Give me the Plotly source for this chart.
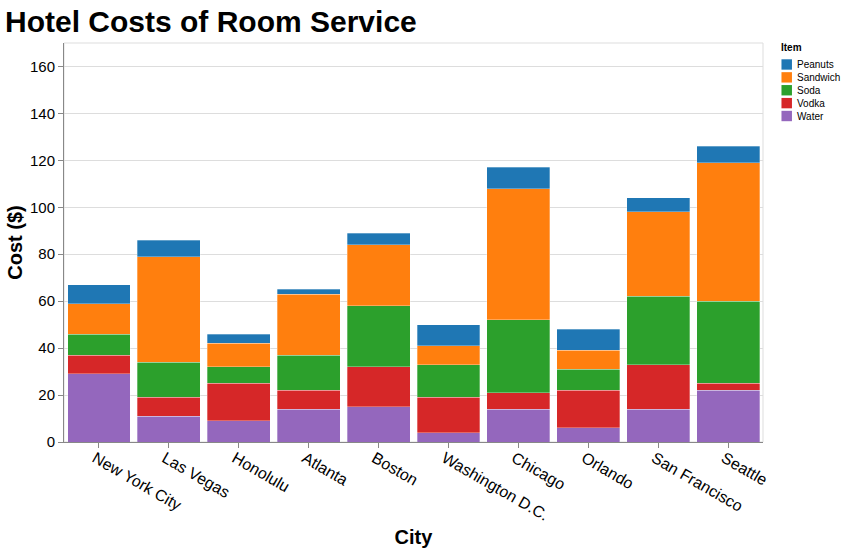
import plotly.graph_objects as go

cities = ['New York City', 'Las Vegas', 'Honolulu', 'Atlanta', 'Boston',
          'Washington D.C.', 'Chicago', 'Orlando', 'San Francisco', 'Seattle']

water = [29, 11, 9, 14, 15, 4, 14, 6, 14, 22]
vodka = [8, 8, 16, 8, 17, 15, 7, 16, 19, 3]
soda = [9, 15, 7, 15, 26, 14, 31, 9, 29, 35]
sandwich = [13, 45, 10, 26, 26, 8, 56, 8, 36, 59]
peanuts = [8, 7, 4, 2, 5, 9, 9, 9, 6, 7]

items = ['Peanuts', 'Sandwich', 'Soda', 'Vodka', 'Water']
item_colors = ['#1f77b4', '#ff7f0e', '#2ca02c', '#d62728', '#9467bd']
y_ticks = [0, 20, 40, 60, 80, 100, 120, 140, 160]

font_name = 'Liberation Sans, Arial, sans-serif'
W, H = 846, 553
left, right, top, bottom = 63.5, 82.5, 42.5, 111

fig = go.Figure()
for name, values, color in [('Water', water, '#9467bd'),
                            ('Vodka', vodka, '#d62728'),
                            ('Soda', soda, '#2ca02c'),
                            ('Sandwich', sandwich, '#ff7f0e'),
                            ('Peanuts', peanuts, '#1f77b4')]:
    fig.add_trace(go.Bar(x=cities, y=values, name=name, showlegend=False,
                         marker=dict(color=color, line=dict(color='#ffffff', width=0.3))))


# plotly's legend can't pack this tight, so it is drawn by hand in pixels
def px_x(px):
    return (px - left) / (W - left - right)


def px_y(px):
    return 1 - (px - top) / (H - top - bottom)


shapes = [dict(type='rect', xref='paper', yref='paper', x0=0, x1=1, y0=0, y1=1,
               line=dict(color='#dddddd', width=1), layer='below')]
annotations = [dict(text='<b>Item</b>', xref='paper', yref='paper', x=px_x(780), y=px_y(47.5),
                    xanchor='left', yanchor='middle', showarrow=False, font=dict(size=10))]
for i, (item, color) in enumerate(zip(items, item_colors)):
    cy = 64 + i * 12.9
    shapes.append(dict(type='rect', xref='paper', yref='paper', x0=px_x(782), x1=px_x(792.5),
                       y0=px_y(cy - 5.2), y1=px_y(cy + 5.2), fillcolor=color, line=dict(width=0)))
    annotations.append(dict(text=item, xref='paper', yref='paper', x=px_x(796), y=px_y(cy),
                            xanchor='left', yanchor='middle', showarrow=False, font=dict(size=10)))

fig.update_layout(
    width=W,
    height=H,
    barmode='stack',
    bargap=0.1,
    paper_bgcolor='#ffffff',
    plot_bgcolor='#ffffff',
    font=dict(family=font_name, color='#000000'),
    margin=dict(l=left, r=right, t=top, b=bottom, autoexpand=False),
    title=dict(text='<b>Hotel Costs of Room Service</b>', font=dict(size=30, color='#000000'),
               x=5 / W, xanchor='left', y=1 - 21 / H, yanchor='middle'),
    xaxis=dict(
        title=dict(text='<b>City</b>', font=dict(size=20), standoff=7),
        categoryorder='array',
        categoryarray=cities,
        tickangle=30,
        tickfont=dict(size=16),
        ticks='outside',
        ticklen=5,
        tickcolor='#888888',
        showline=True,
        linecolor='#888888',
        linewidth=1,
        showgrid=False,
        ticklabelstandoff=-5,
        ticklabelshift=-4,
    ),
    yaxis=dict(
        title=dict(text='<b>Cost ($)</b>', font=dict(size=20), standoff=1),
        range=[0, 170],
        tickvals=y_ticks,
        tickfont=dict(size=15),
        ticks='outside',
        ticklen=5,
        tickcolor='#888888',
        showline=True,
        linecolor='#888888',
        linewidth=1,
        showgrid=True,
        gridcolor='#dddddd',
        zeroline=False,
    ),
    shapes=shapes,
    annotations=annotations,
)

fig.write_html('out.html', config=dict(displayModeBar=False),
               post_script="document.body.style.margin='0';")
